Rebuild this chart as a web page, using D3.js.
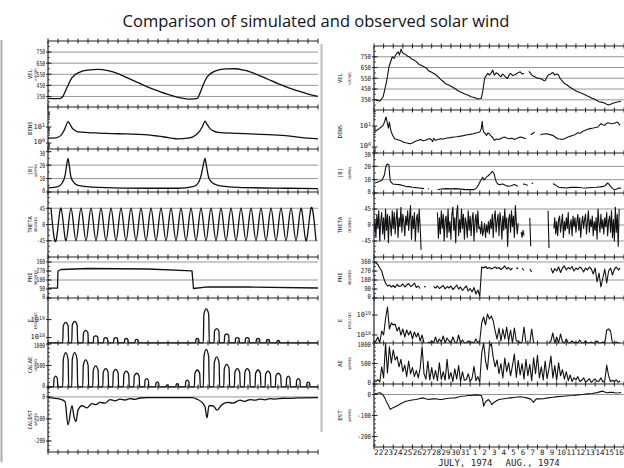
<!DOCTYPE html>
<html>
<head>
<meta charset="utf-8">
<script src="https://cdn.jsdelivr.net/npm/d3@7"></script>
<style>
  body { margin: 0; background: #fff; }
  svg { display: block; }
  text { font-family: "DejaVu Sans Mono", "Liberation Mono", monospace; fill: #222; }
  .title { font-family: "Open Sans", sans-serif; font-size: 16.5px; fill: #111; }
</style>
</head>
<body>
<div id="chart"></div>
<script>
/* Simulated (left) vs observed (right) solar wind, July-Aug 1974 */

// ---- simulated series, [day, value] ----
const simVel = [[0,332],[1.0,330],[1.3,335],[1.5,350],[1.7,390],[1.9,430],[2.4,520],[3.2,570],[4.0,588],[5.0,595],[6.0,582],[7.0,555],[8.0,515],[9.0,475],[10.0,435],[11.0,400],[12.0,368],[13.0,342],[14.2,326],[14.9,330],[15.2,380],[15.5,450],[15.9,525],[16.9,585],[17.8,598],[18.7,600],[19.6,587],[20.8,552],[22.0,505],[23.0,465],[24.0,430],[25.0,400],[26.0,372],[27.0,350]];
const simDens = [[0,2.0],[0.8,2.1],[1.3,3.0],[1.6,6],[1.8,12],[2.0,22],[2.15,17],[2.4,9],[2.7,6],[3.0,5],[4.0,4.5],[5.0,4.2],[7.0,3.8],[9.0,3.5],[10.0,3.2],[11.0,2.7],[12.0,2.2],[13.0,1.8],[14.0,2.0],[14.8,3.2],[15.2,6],[15.5,13],[15.7,23],[15.9,15],[16.2,8],[16.6,5.5],[17.0,4.6],[19.0,4.0],[22.0,3.3],[24.0,2.8],[26.0,2.0],[27.0,1.8]];
const simB = [[0,3],[1.0,4],[1.4,6.5],[1.7,12],[1.85,19],[2.0,25],[2.12,20],[2.3,11],[2.6,7],[3.0,5],[5.0,3.5],[10,2.8],[13,2.8],[14.5,4],[15.0,6.5],[15.3,12],[15.5,19],[15.7,25],[15.85,19],[16.1,10],[16.5,6.5],[17.0,5],[19,3.5],[24,2.8],[27,2.5]];
// theta: alternating extremes every half day, first at day 0.3
const simThetaStart = 0.3, simThetaStep = 0.5;
const simThetaVals = [45,-45,45,-45,45,-45,45,-45,45,-45,45,-45,45,-45,45,-45,45,-45,45,-45,45,-45,45,-45,45,-45,45,-45,45,-45,45,-45,45,-45,45,-45,45,-45,45,-45,45,-45,45,-45,45,-45,45,-45,45,-45,45,-45,45,-45];
const simPhi = [[0,98],[0.95,98],[1.0,270],[1.3,285],[4,295],[10,290],[14.4,272],[14.55,95],[16,112],[20,110],[27,100]];
// E as log10(ergs/sec)
const simE = [[0,17.7],
  [1.47,17.7],[1.53,18.66],[1.77,18.85],[2.01,18.66],[2.07,17.7],
  [2.37,17.7],[2.43,18.7],[2.67,18.9],[2.91,18.7],[2.97,17.7],
  [3.5,17.7],[3.55,18.27],[3.77,18.4],[3.99,18.27],[4.04,17.7],
  [4.52,17.7],[4.57,18.04],[4.77,18.1],[4.97,18.04],[5.02,17.7],
  [5.55,17.7],[5.6,17.95],[5.77,18.0],[5.94,17.95],[5.99,17.7],
  [6.55,17.7],[6.6,17.95],[6.77,18.0],[6.94,17.95],[6.99,17.7],
  [7.63,17.7],[7.68,17.91],[7.83,17.95],[7.98,17.91],[8.03,17.7],
  [8.69,17.7],[8.74,17.87],[8.87,17.9],[9.0,17.87],[9.05,17.7],
  [14.75,17.7],[14.8,17.91],[14.93,17.95],[15.06,17.91],[15.11,17.7],
  [15.53,17.7],[15.59,19.3],[15.83,19.6],[16.07,19.3],[16.13,17.7],
  [16.6,17.7],[16.65,18.37],[16.87,18.5],[17.09,18.37],[17.14,17.7],
  [17.62,17.7],[17.67,18.12],[17.87,18.2],[18.07,18.12],[18.12,17.7],
  [18.71,17.7],[18.76,17.95],[18.93,18.0],[19.1,17.95],[19.15,17.7],
  [19.71,17.7],[19.76,17.95],[19.93,18.0],[20.1,17.95],[20.15,17.7],
  [20.8,17.7],[20.85,17.91],[21.0,17.95],[21.15,17.91],[21.2,17.7],
  [21.82,17.7],[21.87,17.87],[22.0,17.9],[22.13,17.87],[22.18,17.7],
  [22.87,17.7],[22.92,17.82],[23.03,17.85],[23.14,17.82],[23.19,17.7],
  [27,17.7]];
const simAE = [[0,0],
  [0.55,0],[0.61,200],[0.77,255],[0.93,200],[0.99,0],
  [1.47,0],[1.53,640],[1.77,800],[2.01,640],[2.07,0],
  [2.37,0],[2.43,640],[2.67,800],[2.91,640],[2.97,0],
  [3.47,0],[3.53,505],[3.77,630],[4.01,505],[4.07,0],
  [4.47,0],[4.53,390],[4.77,490],[5.01,390],[5.07,0],
  [5.47,0],[5.53,340],[5.77,425],[6.01,340],[6.07,0],
  [6.47,0],[6.53,330],[6.77,410],[7.01,330],[7.07,0],
  [7.53,0],[7.59,295],[7.83,370],[8.07,295],[8.13,0],
  [8.57,0],[8.63,255],[8.87,320],[9.11,255],[9.17,0],
  [9.65,0],[9.71,155],[9.87,195],[10.03,155],[10.09,0],
  [10.75,0],[10.8,90],[10.93,115],[11.06,90],[11.11,0],
  [11.8,0],[11.85,40],[11.93,50],[12.01,40],[12.06,0],
  [12.78,0],[12.83,64],[12.93,80],[13.03,64],[13.08,0],
  [13.73,0],[13.78,128],[13.93,160],[14.08,128],[14.13,0],
  [14.63,0],[14.69,315],[14.93,395],[15.17,315],[15.23,0],
  [15.53,0],[15.59,700],[15.83,875],[16.07,700],[16.13,0],
  [16.57,0],[16.63,560],[16.87,700],[17.11,560],[17.17,0],
  [17.57,0],[17.63,420],[17.87,525],[18.11,420],[18.17,0],
  [18.63,0],[18.69,340],[18.93,425],[19.17,340],[19.23,0],
  [19.63,0],[19.69,340],[19.93,425],[20.17,340],[20.23,0],
  [20.7,0],[20.76,315],[21.0,395],[21.24,315],[21.3,0],
  [21.7,0],[21.76,295],[22.0,370],[22.24,295],[22.3,0],
  [22.73,0],[22.79,255],[23.03,320],[23.27,255],[23.33,0],
  [23.81,0],[23.87,205],[24.03,255],[24.19,205],[24.25,0],
  [24.81,0],[24.87,155],[25.03,195],[25.19,155],[25.25,0],
  [25.85,0],[25.9,90],[26.03,115],[26.16,90],[26.21,0],
  [27,0]];
const simDst = [[0,-3],[1.2,-10],[1.7,-21],[2.0,-127],[2.4,-40],[2.6,-90],[2.8,-112],[3.0,-60],[3.4,-40],[3.9,-50],[4.4,-30],[4.8,-35],[5.2,-25],[5.7,-28],[6.2,-12],[6.7,-18],[7.2,-10],[7.7,-14],[8.2,-8],[8.7,-11],[9.2,-5],[10,-3],[14.4,-3],[14.9,-10],[15.4,-25],[15.7,-45],[15.9,-95],[16.1,-40],[16.5,-40],[16.9,-60],[17.4,-35],[18,-25],[18.5,-28],[19.2,-15],[19.7,-20],[20.2,-12],[20.7,-15],[21.2,-10],[21.7,-13],[22.2,-8],[22.7,-10],[23.5,-6],[24.2,-7],[25,-4],[27,-3]];

// ---- observed series (day 0 = 22 July 1974), null = data gap ----
const obsVel = [[0.2,347],[0.6,338],[0.95,378],[1.3,517],[1.56,657],[1.9,750],[2.1,735],[2.25,766],[2.5,796],[2.65,767],[2.82,821],[2.95,790],[3.06,780],[3.3,770],[3.5,755],[3.67,750],[3.9,730],[4.18,719],[4.4,705],[4.7,678],[4.9,670],[5.2,657],[5.5,640],[5.7,617],[6.0,605],[6.4,585],[6.7,560],[6.9,542],[7.2,520],[7.4,502],[7.8,485],[8.1,471],[8.5,450],[8.8,431],[9.1,418],[9.45,403],[9.8,392],[10.1,378],[10.5,368],[10.8,357],[11.15,362],[11.3,424],[11.5,548],[11.7,580],[11.84,595],[12.0,579],[12.2,600],[12.35,626],[12.5,579],[12.7,600],[12.86,595],[13.05,575],[13.2,564],[13.35,590],[13.5,579],[13.7,560],[13.9,548],[14.05,580],[14.2,595],[14.45,575],[14.7,585],[14.95,600],[15.2,610],[15.4,590],[15.6,595],[15.7,null],[16.1,615],[16.25,600],[16.4,579],[16.6,568],[16.9,554],[17.2,548],[17.45,542],[17.65,530],[17.8,527],[17.95,555],[18.1,579],[18.35,590],[18.6,604],[18.8,579],[19.0,590],[19.15,585],[19.35,550],[19.5,533],[19.8,502],[20.05,490],[20.3,471],[20.6,455],[20.85,440],[21.1,428],[21.35,419],[21.6,410],[21.9,400],[22.15,388],[22.4,378],[22.65,365],[22.9,357],[23.15,345],[23.4,332],[23.65,328],[23.9,323],[24.15,310],[24.4,301],[24.6,308],[24.8,316],[25.1,325],[25.4,332],[25.7,336]];
const obsDens = [[0.1,5.6],[0.35,6.5],[0.6,8],[0.8,9.5],[0.95,10.8],[1.1,16],[1.25,27],[1.4,12.9],[1.5,8],[1.6,15.5],[1.7,8],[1.8,5.2],[1.95,3.5],[2.15,2.5],[2.4,2.3],[2.65,2.1],[2.9,1.9],[3.1,1.7],[3.3,1.6],[3.55,1.5],[3.8,1.44],[4.05,1.6],[4.3,1.87],[4.6,2.1],[4.85,2.3],[5.1,2.0],[5.35,2.1],[5.6,2.4],[5.9,2.5],[6.1,1.8],[6.2,2.6],[6.4,2.1],[6.65,2.3],[6.9,2.5],[7.2,2.4],[7.6,2.7],[7.95,2.8],[8.3,3.0],[8.6,3.1],[9.0,3.3],[9.3,3.5],[9.7,3.85],[10.0,4.0],[10.3,4.3],[10.7,4.8],[11.0,5.2],[11.15,7],[11.25,16.7],[11.32,8],[11.4,5.2],[11.55,4.5],[11.7,3.6],[11.85,4.6],[12.0,4.3],[12.15,3.4],[12.3,3.0],[12.5,2.1],[12.75,2.4],[13.0,2.3],[13.3,2.7],[13.55,3.0],[13.8,2.7],[14.1,2.5],[14.35,2.6],[14.6,2.3],[14.9,2.6],[15.2,3.0],[15.5,2.8],[15.8,2.5],[16.0,null],[16.3,3.8],[16.45,4.3],[16.6,4.8],[16.7,5.2],[16.85,null],[17.3,3.85],[17.6,4.2],[18.0,4.3],[18.3,3.9],[18.6,3.6],[18.85,3.0],[19.1,2.5],[19.35,2.4],[19.6,2.3],[19.9,2.6],[20.2,3.0],[20.45,3.3],[20.7,3.6],[20.95,4.0],[21.2,4.8],[21.45,4.5],[21.7,5.6],[21.95,6.2],[22.2,7],[22.5,7.5],[22.8,8],[23.05,8.5],[23.3,9],[23.45,11],[23.6,12.9],[23.8,11.5],[24.0,10.8],[24.15,13],[24.3,14.4],[24.55,13.5],[24.8,12.9],[25.05,14],[25.3,15.5],[25.45,13],[25.6,10.8]];
const obsB = [[0.1,7.5],[0.35,8],[0.6,8.8],[0.8,9.5],[0.95,11.2],[1.1,14],[1.2,18.7],[1.3,21],[1.4,21.7],[1.55,21],[1.62,14],[1.7,8.8],[1.95,6.8],[2.3,6.5],[2.65,6.3],[3.0,5.6],[3.3,5],[3.65,4.8],[4.0,4.3],[4.35,4.0],[4.7,3.8],[5.0,3.5],[5.2,3.3],[5.3,null],[5.6,3.0],[5.7,3.1],[5.75,null],[6.6,2.5],[7.0,3.0],[7.45,3.3],[8.0,3.1],[8.5,3.3],[9.0,2.9],[9.5,2.5],[9.9,2.6],[10.35,2.5],[10.55,3.2],[10.7,4.3],[10.9,6.5],[11.05,8.8],[11.2,10.5],[11.3,11.8],[11.45,9.8],[11.55,10.5],[11.7,12],[11.8,12.5],[11.95,13.5],[12.05,14.2],[12.2,15.3],[12.3,16.2],[12.4,15.5],[12.5,14.2],[12.6,11],[12.7,8.8],[12.85,7],[13.0,6.3],[13.2,6.5],[13.4,6.8],[13.65,5.8],[13.9,5],[14.25,5.5],[14.6,6.3],[14.8,5.6],[14.95,5],[15.05,null],[15.5,6.5],[15.6,6.8],[15.8,6.2],[16.0,5.8],[16.05,null],[16.4,7.2],[16.55,7.5],[16.6,null],[18.6,7.0],[18.7,6.8],[18.95,5.5],[19.2,4.3],[19.6,4.0],[20.0,3.8],[20.5,4.2],[21.1,4.3],[21.6,3.9],[22.1,3.8],[22.6,4.1],[23.1,4.3],[23.5,4.6],[23.9,5],[24.1,6],[24.3,7.5],[24.45,6.5],[24.6,5],[24.8,3.5],[25.0,2.5],[25.25,3],[25.5,3.8],[25.7,3.5]];
// theta sampled every 0.1 day from day 0
const obsThetaStep = 0.1;
const obsThetaVals = [
  -20,15,-35,30,-10,40,-45,10,35,-25, 20,-40,45,-15,30,-50,25,5,-30,40,
  -10,35,-25,15,45,-35,20,-5,50,-20, 30,10,-30,25,0,40,-15,20,55,-40,
  25,-10,35,-45,15,30,-20,45,-5,-70, null,null,null,null,null,null,null,null,null,null,
  null,null,null,null,null,null,35,-37,20,-25, 40,-10,30,-45,15,25,-35,45,-20,10,
  -40,30,50,-15,20,-50,35,55,-30,15, -20,45,-10,30,-40,20,5,-35,40,-15,
  25,-30,15,35,-45,10,30,-20,40,-10, -5,-25,10,-30,-15,5,-35,0,-20,10,
  -25,15,-10,30,-35,20,40,-20,10,30, -30,35,10,-40,25,-15,45,-10,20,-60,
  15,30,-20,40,-5,25,-35,55,10,-25, 5,null,null,-20,-35,-15,-30,null,null,null,
  null,null,20,-60,null,null,null,null,null,null, null,null,null,null,null,null,null,null,null,null,
  null,40,-65,null,null,null,null,-10,20,-25, 10,-30,15,25,-20,5,30,-35,10,-15,
  20,-10,35,-25,0,15,-30,25,-5,20, -20,10,30,-15,20,-35,5,25,-10,15,
  30,-25,10,40,-20,15,-5,25,-30,10, -15,20,-40,45,5,-20,30,-10,15,-25,
  20,-5,35,-30,10,25,-20,40,-35,15, -45,50,-20,30,-60,45];
// phi, E (log10), AE sampled every 0.2 day from day 0
const obsStep = 0.2;
const obsPhiVals = [
  355,350,335,300,270, 200,150,120,130,110, 125,105,135,115,120, 140,110,130,145,115,
  125,150,105,120,95, null,110,115,null,null, null,115,100,120,95, 110,125,90,115,100,
  120,85,105,130,90, 110,75,100,120,70, 95,60,105,40,80, 20,310,300,315,295,
  305,290,300,310,295, 305,285,300,320,290, 305,280,300,null,305, 290,null,300,275,null,
  null,290,260,null,null, null,null,null,null,null, null,null,300,250,295, 270,310,255,300,320,
  280,305,290,315,270, 300,285,310,295,260, 300,280,310,290,240, 300,160,250,110,200,
  290,150,270,300,230, 290,310,280,300];
const obsEVals = [
  17.6,17.7,17.9,17.6,18.2, 18.0,18.8,19.4,18.3,18.6, 18.5,18.55,18.2,18.4,18.0, 18.3,17.9,18.25,18.0,18.2,
  17.8,18.15,17.9,18.1,17.7, 18.0,17.6,null,17.65,17.6, 17.7,17.6,17.9,17.6,17.8, 17.65,17.95,17.6,17.85,17.7,
  17.6,17.9,17.65,17.6,18.0, 17.6,17.75,17.6,17.6,17.7, 17.6,17.65,17.6,17.8,17.6, 17.7,18.6,18.9,18.5,19.05,
  18.8,18.95,18.7,18.2,17.8, 18.35,17.7,18.3,17.8,18.4, 17.7,18.25,17.6,18.35,17.7, 17.7,17.6,17.65,18.4,17.6,
  null,17.6,18.3,17.6,null, null,null,null,null,null, null,17.6,17.7,18.1,17.6, 17.9,17.6,18.05,17.65,17.6,
  17.8,17.6,17.6,17.7,17.6, 17.65,17.6,17.75,17.6,17.6, 17.7,17.6,17.6,17.65,17.6, 17.6,17.7,17.6,17.6,17.65,
  17.6,18.25,18.3,18.2,17.6, 17.6,17.65,17.6,17.6];
const obsAEVals = [
  80,60,110,50,420, 150,990,270,910,510, 830,585,670,420,600, 300,460,180,560,250,
  400,180,330,150,380, 910,250,120,560,100, 400,120,330,80,520, 110,300,90,600,120,
  280,60,370,120,450, 60,300,90,110,250, 60,140,430,80,180, 50,750,1000,560,350,
  910,990,650,420,585, 250,500,150,630,300, 520,200,450,730,160, 580,220,500,120,600,
  200,480,80,640,250, 700,150,420,100,560, 130,380,680,150,450, 90,520,200,350,120,
  300,80,220,60,150, 100,180,60,90,150, 50,80,130,40,90, 120,60,70,150,50,
  80,460,200,60,90, 60,100,40,80];
const obsDst = [[0.1,5],[0.35,6],[0.61,8],[0.9,0],[1.12,-16],[1.3,-35],[1.46,-48],[1.6,-62],[1.7,-71],[1.85,-66],[1.97,-63],[2.15,-60],[2.3,-56],[2.55,-50],[2.82,-43],[3.05,-38],[3.3,-32],[3.55,-30],[3.84,-27],[4.1,-25],[4.35,-24],[4.7,-20],[5.03,-16],[5.35,-20],[5.7,-24],[6.05,-21],[6.4,-20],[6.75,-23],[7.07,-24],[7.4,-20],[7.75,-18],[8.1,-17],[8.44,-16],[8.8,-12],[9.1,-8],[9.45,-7],[9.8,-5],[10.15,-4],[10.5,-2],[10.85,-3],[11.15,-5],[11.28,-20],[11.4,-56],[11.55,-40],[11.66,-32],[11.9,-24],[12.1,-35],[12.25,-48],[12.5,-37],[12.75,-30],[13.0,-24],[13.5,-20],[13.85,-18],[14.2,-16],[14.7,-13],[15.2,-11],[15.55,-13],[15.9,-16],[16.3,-22],[16.6,-37],[16.75,-28],[16.9,-20],[17.25,-21],[17.6,-20],[18.1,-16],[18.6,-13],[19.1,-10],[19.66,-8],[20.2,-6],[20.7,-5],[21.2,-2],[21.7,0],[22.2,3],[22.7,5],[23.2,9],[23.75,16],[24.0,12],[24.25,8],[24.5,10],[24.8,11],[25.1,7],[25.5,8],[25.7,9]];

const dayLabels = ["22","23","24","25","26","27","28","29","30","31","1","2","3","4","5","6","7","8","9","10","11","12","13","14","15","16"];
const monthLabels = [["JULY, 1974", 9.5], ["AUG., 1974", 16.5]];

// ---- layout ----
const width = 624, height = 468;

const toPairs = (vals, start, step) => vals.map((v, i) => [start + i * step, v]);

// per-variable axis settings (shared by both sides)
const specs = [
  {units: "KM/SEC",   ticks: [750,650,550,450,350], grid: [750,650,550,450,350], minor: 50},
  {units: "",         ticks: [10,1], log: true},
  {units: "GAMMAS",   ticks: [30,20,10,0], grid: [20,10], minor: 5},
  {units: "DEGREES",  ticks: [45,0,-45], grid: [45,0,-45], minor: 15},
  {units: "DEGREES",  ticks: [360,270,180,90,0], grid: [360,180], minor: 45},
  {units: "ERGS/SEC", ticks: [19,18], exp: true},
  {units: "GAMMAS",   ticks: [1000,500,0], minor: 100},
  {units: "GAMMAS",   ticks: [0,-100,-200], grid: [0], minor: 20}
];

const sides = [
  {x0: 48, x1: 318, lineEnd: 318, days: 27, bounds: [41,107,149,192,257,298,343,387,452],
   labelX: 32, unitX: 36.5, tickX: 46, charW: 2.8,
   names: ["VEL","DENS","|B|","THETA","PHI","E","CALAE","CALDST"],
   domains: [[255,850],[0.42,180],[0,32],[-90,90],[0,410],[17.7,20.2],[0,1023],[-250,45]],
   curves: [d3.curveMonotoneX, d3.curveMonotoneX, d3.curveMonotoneX, d3.curveNatural, d3.curveLinear, d3.curveMonotoneX, d3.curveMonotoneX, d3.curveMonotoneX],
   series: [simVel, simDens, simB, toPairs(simThetaVals, simThetaStart, simThetaStep), simPhi, simE, simAE, simDst]},
  {x0: 374, x1: 624, lineEnd: 624, days: 26, bounds: [46,110,153,193,257,298,343,384,447],
   labelX: 342, unitX: 351, tickX: 372, charW: 3.4,
   names: ["VEL","DENS","|B|","THETA","PHI","E","AE","DST"],
   domains: [[255,850],[0.52,58],[0,30],[-90,90],[0,410],[17.6,19.85],[0,1000],[-250,50]],
   curves: d3.range(8).map(() => d3.curveLinear),
   series: [obsVel, obsDens, obsB, toPairs(obsThetaVals, 0, obsThetaStep), toPairs(obsPhiVals, 0, obsStep),
            toPairs(obsEVals, 0, obsStep), toPairs(obsAEVals, 0, obsStep), obsDst]}
];

const svg = d3.select("#chart").append("svg")
  .attr("width", width).attr("height", height)
  .attr("viewBox", [0, 0, width, height]);

svg.append("text").attr("class", "title")
  .attr("x", 316).attr("y", 27).attr("text-anchor", "middle")
  .text("Comparison of simulated and observed solar wind");

// faint scan edges
svg.append("line").attr("x1", 1.5).attr("x2", 1.5).attr("y1", 40).attr("y2", 462)
  .attr("stroke", "#aaa").attr("stroke-width", 2);
svg.append("line").attr("x1", 321.5).attr("x2", 321.5).attr("y1", 44).attr("y2", 432)
  .attr("stroke", "#bbb").attr("stroke-width", 2);

const defs = svg.append("defs");

sides.forEach((side, si) => {
  const x = d3.scaleLinear().domain([0, side.days]).range([side.x0, side.x1]);
  const g = svg.append("g");

  specs.forEach((spec, pi) => {
    const top = side.bounds[pi], bottom = side.bounds[pi + 1];
    const y = (spec.log ? d3.scaleLog() : d3.scaleLinear())
      .domain(side.domains[pi]).range([bottom, top]);

    // grid lines
    g.selectAll(null).data(spec.grid || []).join("line")
      .attr("x1", side.x0).attr("x2", side.lineEnd)
      .attr("y1", d => y(d)).attr("y2", d => y(d))
      .attr("stroke", "#8a8a8a").attr("stroke-width", 0.9);

    // minor ticks on the y axis
    let minor = [];
    if (spec.log) {
      const [lo, hi] = side.domains[pi];
      for (let dec = 0.1; dec <= 100; dec *= 10)
        for (let k = 2; k <= 9; k++) if (k * dec > lo && k * dec < hi) minor.push(k * dec);
    } else if (spec.minor) {
      const [lo, hi] = side.domains[pi];
      minor = d3.range(Math.ceil(lo / spec.minor) * spec.minor, hi, spec.minor);
    }
    g.selectAll(null).data(minor).join("line")
      .attr("x1", side.x0).attr("x2", side.x0 + 2)
      .attr("y1", d => y(d)).attr("y2", d => y(d))
      .attr("stroke", "#333").attr("stroke-width", 0.8);

    // major ticks and labels
    g.selectAll(null).data(spec.ticks).join("line")
      .attr("x1", side.x0 - 2).attr("x2", side.x0 + 3.5)
      .attr("y1", d => y(d)).attr("y2", d => y(d))
      .attr("stroke", "#222").attr("stroke-width", 1);

    // labels hugging a panel edge get nudged inward so neighbours don't collide
    const nudge = d => {
      const p = y(d);
      if (p - top < 3) return 2;
      if (bottom - p < 7) return -1;
      return 0;
    };
    const lab = g.selectAll(null).data(spec.ticks).join("text")
      .attr("x", side.tickX - 1).attr("y", d => y(d) + 2.4 + nudge(d))
      .attr("text-anchor", "end").attr("font-size", 7);
    if (spec.log || spec.exp) {
      lab.text("10");
      lab.append("tspan").attr("dy", -2.5).attr("font-size", 5)
        .text(d => spec.log ? Math.round(Math.log10(d)) : d);
    } else {
      // the old plotter lettering is narrow: squeeze the numbers
      lab.text(d => d)
        .attr("textLength", d => String(d).length * side.charW)
        .attr("lengthAdjust", "spacingAndGlyphs");
    }

    // rotated variable name and units
    const mid = (top + bottom) / 2;
    g.append("text")
      .attr("transform", `translate(${side.labelX},${mid}) rotate(-90)`)
      .attr("text-anchor", "middle").attr("font-size", 5.5)
      .text(side.names[pi]);
    if (spec.units) {
      g.append("text")
        .attr("transform", `translate(${side.unitX},${mid}) rotate(-90)`)
        .attr("text-anchor", "middle").attr("font-size", 3.6)
        .text(spec.units);
    }

    // data line, clipped to the panel
    const clipId = `clip-${si}-${pi}`;
    defs.append("clipPath").attr("id", clipId).append("rect")
      .attr("x", side.x0).attr("y", top - 1)
      .attr("width", side.lineEnd - side.x0).attr("height", bottom - top + 1.5);

    const line = d3.line()
      .defined(d => d[1] != null)
      .x(d => x(d[0])).y(d => y(d[1]))
      .curve(side.curves[pi]);

    g.append("path")
      .datum(side.series[pi])
      .attr("clip-path", `url(#${clipId})`)
      .attr("fill", "none")
      .attr("stroke", "#111")
      .attr("stroke-width", si === 0 ? 1.3 : 1.1)
      .attr("stroke-linejoin", "round")
      .attr("d", line);
  });

  // panel borders with day ticks
  side.bounds.forEach(b => {
    g.append("line").attr("x1", side.x0).attr("x2", side.lineEnd)
      .attr("y1", b).attr("y2", b).attr("stroke", "#222").attr("stroke-width", 1.2);
    g.selectAll(null).data(d3.range(0, side.days + 1)).join("line")
      .attr("x1", d => x(d)).attr("x2", d => x(d))
      .attr("y1", b - 2.5).attr("y2", b + 2.5)
      .attr("stroke", "#222").attr("stroke-width", 1);
  });

  // y axis line
  g.append("line").attr("x1", side.x0).attr("x2", side.x0)
    .attr("y1", side.bounds[0]).attr("y2", side.bounds[8])
    .attr("stroke", "#222").attr("stroke-width", 1.2);

  // date labels only under the observed side
  if (si === 1) {
    const yb = side.bounds[8];
    g.selectAll(null).data(dayLabels).join("text")
      .attr("x", (d, i) => x(i + 0.5)).attr("y", yb + 8)
      .attr("text-anchor", "middle").attr("font-size", 7.5)
      .text(d => d);
    g.selectAll(null).data(monthLabels).join("text")
      .attr("x", d => x(d[1])).attr("y", yb + 19)
      .attr("text-anchor", "middle").attr("font-size", 9)
      .text(d => d[0]);
  }
});
</script>
</body>
</html>
